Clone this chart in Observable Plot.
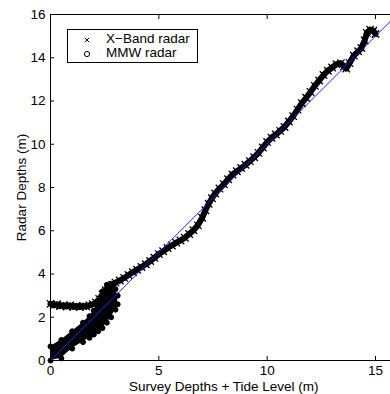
<!DOCTYPE html>
<html><head><meta charset="utf-8">
<script src="https://cdn.jsdelivr.net/npm/d3@7"></script>
<script src="https://cdn.jsdelivr.net/npm/@observablehq/plot@0.6"></script>
<style>
html,body{margin:0;padding:0;background:#fff;}
#wrap{position:relative;width:390px;height:394px;overflow:hidden;font-family:"Liberation Sans",Arial,sans-serif;}
#wrap svg{display:block;}
#legend{position:absolute;left:67px;top:29px;width:129px;height:32px;border:1px solid #000;background:#fff;font-size:13.5px;color:#000;}
#legend .row{position:absolute;left:0;height:14px;line-height:14px;white-space:nowrap;}
#legend .row svg{position:absolute;left:14px;top:3px;}
#legend .row span{position:absolute;left:38px;}
</style></head><body>
<div id="wrap"></div>
<script>
// X-Band radar: traced band (survey depth + tide, radar depth)
const xbX = [0.0,0.15,0.3,0.45,0.6,0.75,0.9,1.05,1.2,1.35,1.5,1.65,1.8,1.95,2.1,2.25,2.4,2.55,2.7,2.85,3.0,3.2,3.4,3.6,3.8,4.0,4.2,4.4,4.6,4.8,5.0,5.2,5.4,5.6,5.8,6.0,6.2,6.4,6.6,6.8,7.0,7.15,7.3,7.45,7.6,7.8,8.0,8.2,8.4,8.6,8.8,9.0,9.2,9.4,9.6,9.8,10.0,10.2,10.4,10.6,10.8,11.0,11.2,11.4,11.6,11.8,12.0,12.2,12.4,12.6,12.8,13.0,13.2,13.4,13.55,13.65,13.8,14.0,14.2,14.35,14.5,14.6,14.75,14.9,15.0];
const xbY = [2.62,2.55,2.6,2.52,2.55,2.5,2.55,2.48,2.52,2.47,2.52,2.5,2.55,2.6,2.68,2.85,3.05,3.25,3.4,3.5,3.6,3.7,3.82,3.95,4.08,4.2,4.32,4.45,4.6,4.75,4.92,5.05,5.2,5.32,5.45,5.55,5.68,5.85,6.02,6.25,6.6,6.95,7.25,7.5,7.72,7.95,8.15,8.38,8.6,8.75,8.9,9.05,9.22,9.4,9.6,9.85,10.1,10.3,10.45,10.62,10.8,11.05,11.3,11.6,11.9,12.15,12.42,12.7,12.95,13.2,13.4,13.55,13.7,13.75,13.6,13.5,13.75,14.1,14.3,14.45,14.8,15.15,15.3,15.25,15.1];
// MMW radar: dense cluster near shore (lower and upper envelope of the points)
const mmwX  = [0.0,0.5,1.0,1.5,1.8,2.0,2.2,2.4,2.6,2.8,3.0,3.1];
const mmwLo = [0.0,0.1,0.55,0.85,1.05,1.2,1.35,1.5,1.75,2.0,2.35,2.6];
const mmwHi = [0.65,0.95,1.35,1.75,2.05,2.3,2.75,3.2,3.5,3.55,3.3,3.0];
// 1:1 reference line
const fitX = [0,16];
const fitY = [0,16];
const xTicks = [0,5,10,15];
const yTicks = [0,2,4,6,8,10,12,14,16];
const seriesNames = ["X\u2212Band radar","MMW radar"];
const xLabel = "Survey Depths + Tide Level (m)";
const yLabel = "Radar Depths (m)";

const xb = xbX.map((x,i)=>({x, y:xbY[i]}));
const mmw = mmwX.map((x,i)=>({x, lo:mmwLo[i], hi:mmwHi[i]}));
const fit = fitX.map((x,i)=>({x, y:fitY[i]}));

const chart = Plot.plot({
  width: 390, height: 394,
  marginLeft: 50, marginRight: -6.67, marginTop: 14, marginBottom: 34,
  style: {fontFamily: '"Liberation Sans", Arial, sans-serif', fontSize: "13.5px", color: "#000", background: "#fff", overflow: "hidden"},
  x: {domain: [0,16]},
  y: {domain: [0,16]},
  marks: [
    Plot.areaY(mmw, {x:"x", y1:"lo", y2:"hi", fill:"#000"}),
    Plot.dot(mmw, {x:"x", y:"lo", symbol:"circle", r:2.5, fill:"#000", stroke:"#000", strokeWidth:1}),
    Plot.dot(mmw, {x:"x", y:"hi", symbol:"circle", r:2.5, fill:"#000", stroke:"#000", strokeWidth:1}),
    Plot.line(xb, {x:"x", y:"y", stroke:"#000", strokeWidth:6, strokeLinejoin:"round", strokeLinecap:"round"}),
    Plot.dot(xb, {x:"x", y:"y", symbol:"times", r:3.5, stroke:"#000", strokeWidth:1.3}),
    Plot.line(fit, {x:"x", y:"y", stroke:"#1e1eff", strokeWidth:1}),
    Plot.ruleX([0], {stroke:"#000"}),
    Plot.ruleY([0,16], {stroke:"#000"}),
    Plot.axisX({ticks: xTicks, anchor:"bottom", tickSize:-4, tickPadding:9, label:xLabel, labelAnchor:"center", labelArrow:"none", labelOffset:30}),
    Plot.axisX({ticks: xTicks, anchor:"top", tickSize:-4, tickFormat:()=>"", label:null}),
    Plot.axisY({ticks: yTicks, anchor:"left", tickSize:-4, tickPadding:9, label:yLabel, labelAnchor:"center", labelArrow:"none", labelOffset:34})
  ]
});
const wrap = document.getElementById("wrap");
wrap.appendChild(chart);

// legend
const leg = document.createElement("div");
leg.id = "legend";
const syms = ["times","circle"];
seriesNames.forEach((name,i)=>{
  const row = document.createElement("div");
  row.className = "row";
  row.style.top = (i===0 ? 2 : 16) + "px";
  const s = d3.create("svg").attr("width",10).attr("height",10);
  const g = s.append("g").attr("transform","translate(5,5)");
  if (syms[i]==="times") {
    g.append("path").attr("d", d3.symbol(d3.symbolTimes, 14)()).attr("stroke","#000").attr("fill","none").attr("stroke-width",1);
  } else {
    g.append("circle").attr("r",2.6).attr("stroke","#000").attr("fill","none").attr("stroke-width",1);
  }
  row.appendChild(s.node());
  const t = document.createElement("span");
  t.textContent = name;
  row.appendChild(t);
  leg.appendChild(row);
});
wrap.appendChild(leg);
</script>
</body></html>
